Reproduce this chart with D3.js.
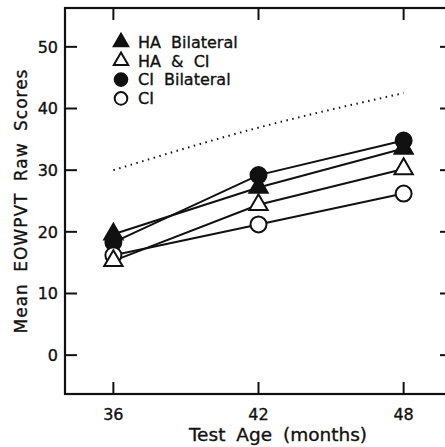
<!DOCTYPE html>
<html lang="en">
<head>
<meta charset="UTF-8" />
<title>Mean EOWPVT Raw Scores</title>
<style>
    body { margin: 0; background: #fff; }
    svg { display: block; }
    text { font-family: "DejaVu Sans", sans-serif; fill: #111; stroke: #111; stroke-width: 0.35px; }
    .tick-label { font-size: 16px; }
    .legend text { font-size: 16px; word-spacing: 5px; }
</style>
</head>
<body>
<svg width="445" height="447"></svg>
<script src="https://cdn.jsdelivr.net/npm/d3@7/dist/d3.min.js"></script>
<script>
const ages = [36, 42, 48];
const yTicks = [0, 10, 20, 30, 40, 50];

const haBilateral = [19.6, 27.2, 33.5];
const haCi = [15.3, 24.4, 30.2];
const ciBilateral = [18.3, 29.2, 34.8];
const ci = [16.2, 21.2, 26.2];
const norm = [30, 36.9, 42.5];

const seriesNames = ['HA Bilateral', 'HA & CI', 'CI Bilateral', 'CI'];

const svg = d3.select('svg');

const x = d3.scaleLinear().domain([34, 50]).range([65, 452]);
const y = d3.scaleLinear().domain([-6.3, 56.3]).range([394, 8]);

const frame = svg.append('g');
frame.append('rect')
    .attr('x', x(34)).attr('y', y(56.3))
    .attr('width', x(50) - x(34)).attr('height', y(-6.3) - y(56.3))
    .attr('fill', 'none').attr('stroke', '#111').attr('stroke-width', 2.2);

// inward ticks on all four sides
const tl = 12;
const ticks = svg.append('g').attr('stroke', '#111').attr('stroke-width', 2);
ticks.selectAll('.yl').data(yTicks).enter().append('line')
    .attr('x1', x(34)).attr('x2', x(34) + tl)
    .attr('y1', d => y(d)).attr('y2', d => y(d));
ticks.selectAll('.yr').data(yTicks).enter().append('line')
    .attr('x1', x(50)).attr('x2', x(50) - tl)
    .attr('y1', d => y(d)).attr('y2', d => y(d));
ticks.selectAll('.xb').data(ages).enter().append('line')
    .attr('x1', d => x(d)).attr('x2', d => x(d))
    .attr('y1', y(-6.3)).attr('y2', y(-6.3) - tl);
ticks.selectAll('.xt').data(ages).enter().append('line')
    .attr('x1', d => x(d)).attr('x2', d => x(d))
    .attr('y1', y(56.3)).attr('y2', y(56.3) + tl);

svg.selectAll('.ylab').data(yTicks).enter().append('text')
    .attr('class', 'tick-label')
    .attr('x', x(34) - 7).attr('y', d => y(d))
    .attr('dy', '0.36em').attr('text-anchor', 'end')
    .text(d => d);
svg.selectAll('.xlab').data(ages).enter().append('text')
    .attr('class', 'tick-label')
    .attr('x', d => x(d)).attr('y', 420)
    .attr('text-anchor', 'middle')
    .text(d => d);

svg.append('text')
    .attr('x', 278).attr('y', 441)
    .attr('text-anchor', 'middle')
    .style('font-size', '18.5px').style('word-spacing', '5px')
    .text('Test Age (months)');
svg.append('text')
    .attr('transform', `translate(27,201) rotate(-90)`)
    .attr('text-anchor', 'middle')
    .style('font-size', '17px').style('letter-spacing', '1px').style('word-spacing', '5px')
    .text('Mean EOWPVT Raw Scores');

// dotted reference curve
svg.append('path')
    .datum(norm)
    .attr('fill', 'none').attr('stroke', '#111').attr('stroke-width', 2)
    .attr('stroke-dasharray', '1.5,4.5')
    .attr('d', d3.line().x((d, i) => x(ages[i])).y(d => y(d)).curve(d3.curveNatural));

const series = [
    { name: 'CI Bilateral', values: ciBilateral, shape: d3.symbolCircle, fill: '#111' },
    { name: 'HA Bilateral', values: haBilateral, shape: d3.symbolTriangle, fill: '#111' },
    { name: 'CI', values: ci, shape: d3.symbolCircle, fill: '#fff' },
    { name: 'HA & CI', values: haCi, shape: d3.symbolTriangle, fill: '#fff' }
];

const line = d3.line().x((d, i) => x(ages[i])).y(d => y(d));
svg.selectAll('.series-line').data(series).enter().append('path')
    .attr('fill', 'none').attr('stroke', '#111').attr('stroke-width', 2)
    .attr('d', d => line(d.values));

const sym = s => d3.symbol().type(s.shape).size(s.shape === d3.symbolCircle ? 200 : 145)();
series.forEach(s => {
    svg.selectAll(null).data(s.values).enter().append('path')
        .attr('transform', (d, i) => `translate(${x(ages[i])},${y(d)})`)
        .attr('d', sym(s))
        .attr('fill', s.fill).attr('stroke', '#111').attr('stroke-width', 2);
});

// legend
const legendMarks = {
    'HA Bilateral': { shape: d3.symbolTriangle, fill: '#111', size: 90 },
    'HA & CI': { shape: d3.symbolTriangle, fill: '#fff', size: 90 },
    'CI Bilateral': { shape: d3.symbolCircle, fill: '#111', size: 125 },
    'CI': { shape: d3.symbolCircle, fill: '#fff', size: 125 }
};
const legend = svg.append('g').attr('class', 'legend');
const rows = legend.selectAll('g').data(seriesNames).enter().append('g')
    .attr('transform', (d, i) => `translate(121,${42 + i * 18.8})`);
rows.append('path')
    .attr('d', d => d3.symbol().type(legendMarks[d].shape).size(legendMarks[d].size)())
    .attr('fill', d => legendMarks[d].fill).attr('stroke', '#111').attr('stroke-width', 2);
rows.append('text').attr('x', 17).attr('dy', '0.36em').text(d => d);
</script>
</body>
</html>
